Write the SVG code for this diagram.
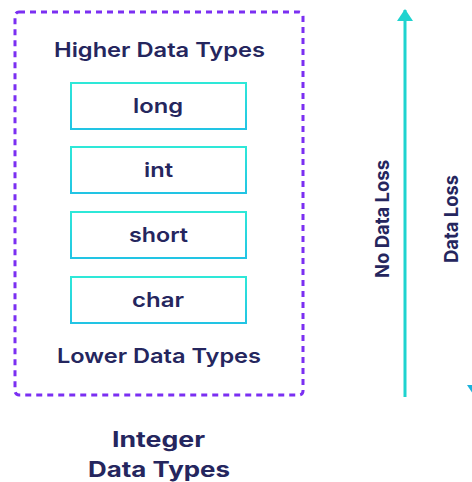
<svg xmlns="http://www.w3.org/2000/svg" width="472" height="482" viewBox="0 0 472 482">
  <defs>
    <linearGradient id="cy" x1="0" y1="0" x2="0" y2="1">
      <stop offset="0" stop-color="#2ee8d8"/>
      <stop offset="1" stop-color="#22c4e4"/>
    </linearGradient>
    <marker id="head" viewBox="0 0 12 16" refX="11" refY="8" markerWidth="12" markerHeight="16" markerUnits="userSpaceOnUse" orient="auto">
      <path d="M0,0 L12,8 L0,16 Z" fill="#1fd3cf"/>
    </marker>
    <marker id="head2" viewBox="0 0 12 16" refX="11" refY="8" markerWidth="12" markerHeight="16" markerUnits="userSpaceOnUse" orient="auto">
      <path d="M0,0 L12,8 L0,16 Z" fill="#1bb2dc"/>
    </marker>
  </defs>
  <style>
    .t { font-family: Inter, "Noto Sans", sans-serif; font-weight: 600; fill: #25265e; text-anchor: middle; }
    .lab { font-size: 20px; }
    .cap { font-size: 21px; font-weight: 700; }
    .box { fill: #ffffff; stroke: url(#cy); stroke-width: 2; }
    .ax { stroke: #1fd3cf; stroke-width: 3; fill: none; }
    .side { font-family: Inter, "Noto Sans", sans-serif; font-weight: 700; fill: #25265e; text-anchor: middle; font-size: 19px; }
  </style>
  <rect width="472" height="482" fill="#ffffff"/>
  <g id="container">
    <rect x="15" y="12" width="288" height="383" rx="4" fill="none" stroke="#7b2ff2" stroke-width="3" stroke-dasharray="6 5"/>
    <text class="t lab" x="159.5" y="57" textLength="211" lengthAdjust="spacingAndGlyphs">Higher Data Types</text>
    <text class="t lab" x="159" y="363" textLength="204" lengthAdjust="spacingAndGlyphs">Lower Data Types</text>
  </g>
  <g id="long">
    <rect class="box" x="71" y="83" width="175" height="46"/>
    <text class="t lab" x="158" y="113" textLength="50" lengthAdjust="spacingAndGlyphs">long</text>
  </g>
  <g id="int">
    <rect class="box" x="71" y="147" width="175" height="46"/>
    <text class="t lab" x="158.5" y="177" textLength="29" lengthAdjust="spacingAndGlyphs">int</text>
  </g>
  <g id="short">
    <rect class="box" x="71" y="212" width="175" height="46"/>
    <text class="t lab" x="158.5" y="242" textLength="59" lengthAdjust="spacingAndGlyphs">short</text>
  </g>
  <g id="char">
    <rect class="box" x="71" y="277" width="175" height="46"/>
    <text class="t lab" x="158" y="307" textLength="52" lengthAdjust="spacingAndGlyphs">char</text>
  </g>
  <g id="caption">
    <text class="t cap" x="158.5" y="447" textLength="93" lengthAdjust="spacingAndGlyphs">Integer</text>
    <text class="t cap" x="159" y="477" textLength="142" lengthAdjust="spacingAndGlyphs">Data Types</text>
  </g>
  <g id="connectors">
    <line class="ax" x1="405" y1="397" x2="405" y2="10" marker-end="url(#head)"/>
    <line class="ax" x1="475" y1="10" x2="475" y2="396" marker-end="url(#head2)" style="stroke:#1bb2dc"/>
  </g>
  <g id="labels">
    <text class="side" transform="translate(389,219) rotate(-90)" textLength="118" lengthAdjust="spacingAndGlyphs">No Data Loss</text>
    <text class="side" transform="translate(458,219) rotate(-90)" textLength="88" lengthAdjust="spacingAndGlyphs">Data Loss</text>
  </g>
</svg>
